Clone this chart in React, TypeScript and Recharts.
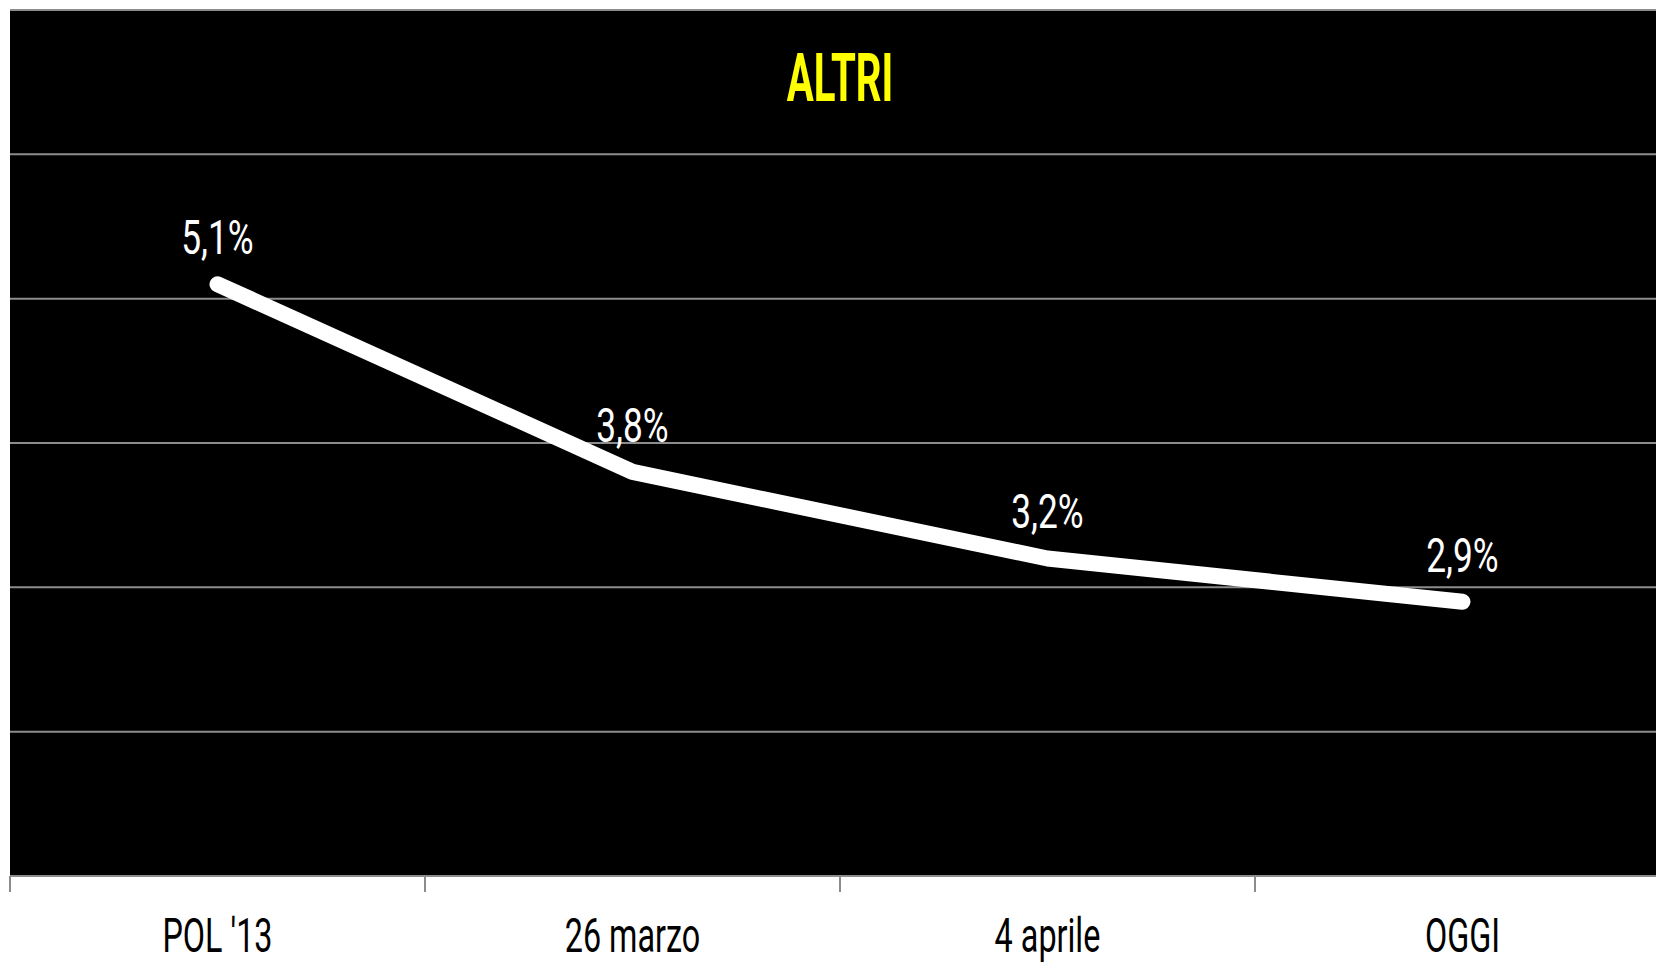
import React from 'react';
import { LineChart, Line, XAxis, YAxis, CartesianGrid, LabelList } from 'recharts';

const title = 'ALTRI';
const categories = ["POL '13", '26 marzo', '4 aprile', 'OGGI'];
const values = [5.1, 3.8, 3.2, 2.9];
const yTicks = [1, 2, 3, 4, 5, 6, 7];

// each category sits in the middle of its own slot, slot borders get a tick line
const data = categories.map((name, i) => ({ name, pos: i + 0.5, value: values[i] }));
const xTicks: number[] = [];
categories.forEach((_, i) => xTicks.push(i, i + 0.5));
xTicks.push(categories.length);

const fontFamily = 'Roboto, "Liberation Sans", sans-serif';
const gridColor = '#8c8c8c';

const fmt = (v: number) => v.toFixed(1).replace('.', ',') + '%';

const XTick = (props: any) => {
  const { x, y, payload } = props;
  const v = payload.value as number;
  if (Number.isInteger(v)) {
    return <line x1={x} x2={x} y1={y} y2={y + 16} stroke={gridColor} strokeWidth={2} />;
  }
  const label = categories[Math.floor(v)];
  return (
    <text
      transform={`translate(${x},${y + 76}) scale(0.66,1)`}
      textAnchor="middle"
      fontFamily={fontFamily}
      fontSize={49}
      fill="#000"
    >
      {label}
    </text>
  );
};

const NoTick = () => <g />;

const ValueLabel = (props: any) => {
  const { x, y, value } = props;
  return (
    <text
      transform={`translate(${x},${y - 30}) scale(0.72,1)`}
      textAnchor="middle"
      fontFamily={fontFamily}
      fontSize={49}
      fill="#fff"
    >
      {fmt(value)}
    </text>
  );
};

export default function App() {
  return (
    <div style={{ position: 'relative', width: 1656, height: 963, overflow: 'hidden' }}>
      <style>{'body{margin:0}'}</style>
      <LineChart
        width={1670}
        height={963}
        data={data}
        margin={{ top: 10, right: 0, left: 10, bottom: 0 }}
      >
        <CartesianGrid vertical={false} fill="#000" stroke={gridColor} strokeWidth={2} />
        <XAxis
          dataKey="pos"
          type="number"
          domain={[0, categories.length]}
          ticks={xTicks}
          interval={0}
          height={87}
          tickSize={0}
          tickMargin={0}
          tickLine={false}
          tick={<XTick />}
          stroke={gridColor}
          strokeWidth={2}
        />
        <YAxis
          type="number"
          domain={[1, 7]}
          ticks={yTicks}
          interval={0}
          width={0}
          tick={<NoTick />}
          tickLine={false}
          stroke={gridColor}
          strokeWidth={2}
        />
        <Line
          type="linear"
          dataKey="value"
          stroke="#fff"
          strokeWidth={16}
          strokeLinecap="round"
          strokeLinejoin="round"
          dot={false}
          activeDot={false}
          isAnimationActive={false}
        >
          <LabelList dataKey="value" content={<ValueLabel />} />
        </Line>
      </LineChart>
      <svg
        width={1656}
        height={140}
        style={{ position: 'absolute', left: 0, top: 0, pointerEvents: 'none' }}
      >
        <text
          transform="translate(840,101) scale(0.6,1)"
          textAnchor="middle"
          fontFamily={fontFamily}
          fontSize={67}
          fontWeight="bold"
          fill="#ffff00"
        >
          {title}
        </text>
      </svg>
    </div>
  );
}
